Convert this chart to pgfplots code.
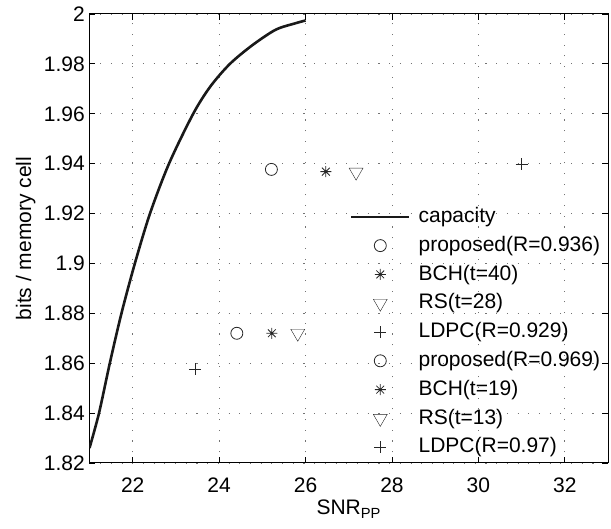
\documentclass[border=0pt]{standalone}
\usepackage{fontspec}
\setmainfont{Liberation Sans}
\usepackage{pgfplots}
\pgfplotsset{compat=1.18}
\pgfdeclareplotmark{ast8}{%
  \pgfpathmoveto{\pgfqpoint{0pt}{\pgfplotmarksize}}\pgfpathlineto{\pgfqpoint{0pt}{-\pgfplotmarksize}}%
  \pgfpathmoveto{\pgfqpoint{\pgfplotmarksize}{0pt}}\pgfpathlineto{\pgfqpoint{-\pgfplotmarksize}{0pt}}%
  \pgfpathmoveto{\pgfqpoint{.7071\pgfplotmarksize}{.7071\pgfplotmarksize}}\pgfpathlineto{\pgfqpoint{-.7071\pgfplotmarksize}{-.7071\pgfplotmarksize}}%
  \pgfpathmoveto{\pgfqpoint{-.7071\pgfplotmarksize}{.7071\pgfplotmarksize}}\pgfpathlineto{\pgfqpoint{.7071\pgfplotmarksize}{-.7071\pgfplotmarksize}}%
  \pgfusepathqstroke}
\begin{document}
\fontsize{21}{25}\selectfont
\begin{tikzpicture}
\begin{axis}[
  scale only axis, width=518.5pt, height=449pt,
  xmin=21, xmax=33, ymin=1.82, ymax=2,
  xtick={22,24,26,28,30,32},
  ytick={1.82,1.84,1.86,1.88,1.9,1.92,1.94,1.96,1.98,2},
  /pgf/number format/assume math mode=true,
  tick align=inside, major tick length=6pt,
  xtick pos=both, ytick pos=both,
  tick style={line width=0.8pt, black},
  axis line style={line width=1pt, black},
  grid=major,
  major grid style={color=black!55, line width=0.9pt, dash pattern=on 1.1pt off 9.6pt},
  xticklabel style={inner sep=0pt, yshift=-15pt},
  yticklabel style={inner sep=0pt, xshift=-4.5pt},
  xlabel={SNR\textsubscript{PP}},
  ylabel={bits / memory cell},
  xlabel style={at={(axis description cs:0.5,-0.1158)}, anchor=base},
  ylabel style={at={(axis description cs:-0.1230,0.5)}, anchor=center},
  legend image code/.code={\draw[mark repeat=2,mark phase=2,#1] plot coordinates {(0pt,0pt)(29pt,0pt)(58pt,0pt)};},
  legend style={draw=none, fill=none, inner sep=0pt, outer sep=0pt,
    at={(0.5024,0.570)}, anchor=north west, row sep=9.3pt, column sep=8pt,
    nodes={inner sep=0pt, text height=15.5pt, text depth=4pt}},
  legend cell align=left,
  mark options={solid, line width=0.8pt},
]
\addplot[black!90, line width=2.6pt, smooth] coordinates {
 (21,1.826) (21.22,1.84) (21.47,1.86) (21.74,1.88) (22.05,1.90) (22.40,1.92)
 (22.84,1.94) (23.40,1.96) (23.80,1.9710) (24.25,1.98) (24.77,1.9875) (25.31,1.9937) (25.77,1.9963) (26,1.9974)};
\addlegendentry{capacity}
\addplot[only marks, black!85, mark=o, mark size=6pt] coordinates {(24.41,1.872)};
\addlegendentry{proposed(R=0.936)}
\addplot[only marks, black!85, mark=ast8, mark size=5.5pt] coordinates {(25.22,1.872)};
\addlegendentry{BCH(t=40)}
\addplot[only marks, black!85, mark=triangle, mark size=8pt, mark options={rotate=180}] coordinates {(25.82,1.872)};
\addlegendentry{RS(t=28)}
\addplot[only marks, black!85, mark=+, mark size=6pt] coordinates {(23.44,1.8575)};
\addlegendentry{LDPC(R=0.929)}
\addplot[only marks, black!85, mark=o, mark size=6pt] coordinates {(25.21,1.9377)};
\addlegendentry{proposed(R=0.969)}
\addplot[only marks, black!85, mark=ast8, mark size=5.5pt] coordinates {(26.47,1.9368)};
\addlegendentry{BCH(t=19)}
\addplot[only marks, black!85, mark=triangle, mark size=8pt, mark options={rotate=180}] coordinates {(27.17,1.9366)};
\addlegendentry{RS(t=13)}
\addplot[only marks, black!85, mark=+, mark size=6pt] coordinates {(31.0,1.9397)};
\addlegendentry{LDPC(R=0.97)}
\end{axis}
\path ([xshift=-89.5pt,yshift=-66pt]current axis.south west) rectangle ([xshift=3pt,yshift=14pt]current axis.north east);
\end{tikzpicture}
\end{document}
